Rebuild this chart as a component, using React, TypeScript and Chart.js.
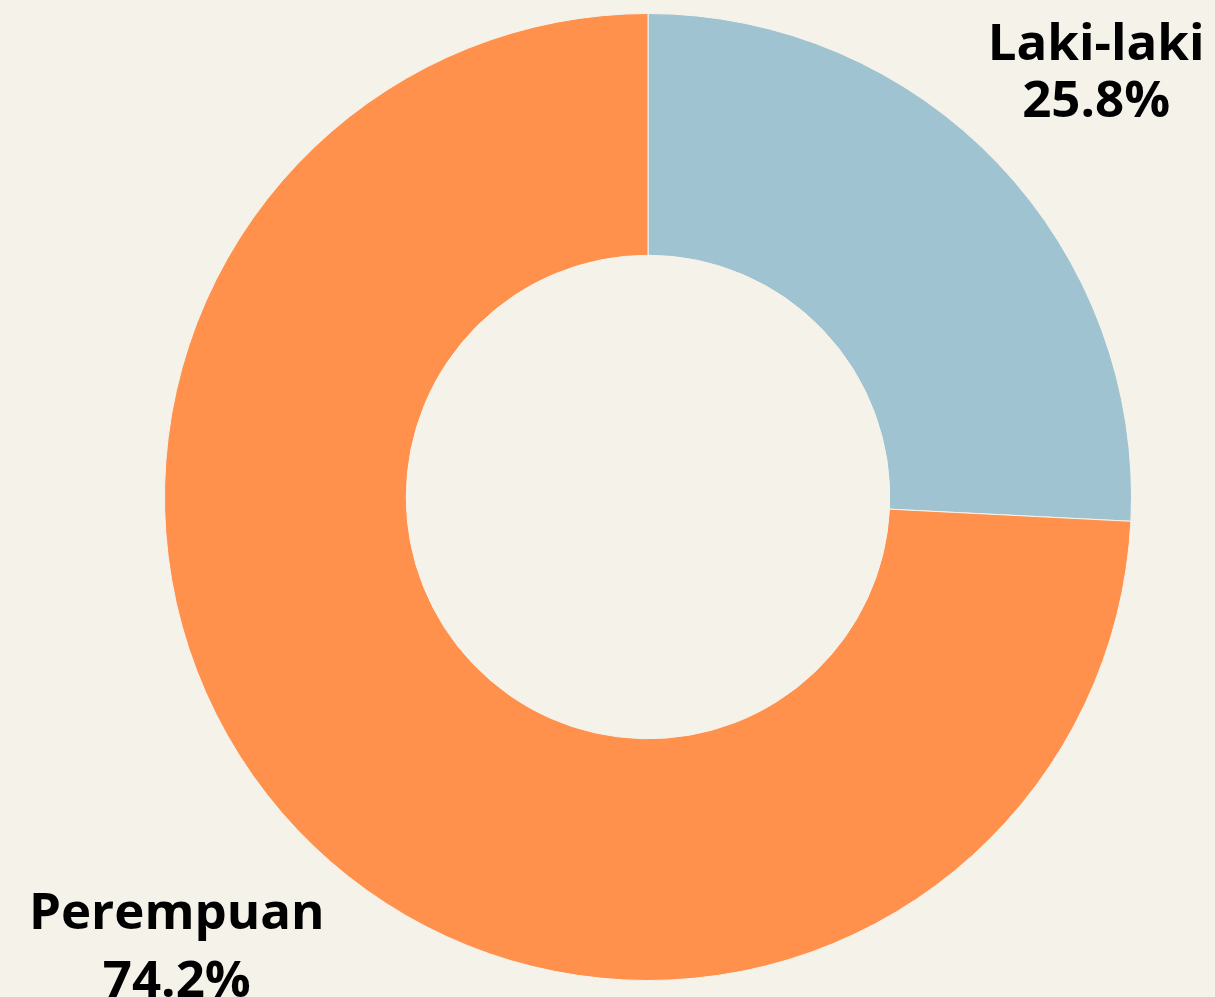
import React, { useEffect, useRef } from "react";
import { Chart, registerables } from "chart.js";

Chart.register(...registerables);

const categories: string[] = ["Laki-laki", "Perempuan"];
const shares: number[] = [25.8, 74.2];
const percentLabels: string[] = ["25.8%", "74.2%"];
const sliceColors: string[] = ["#A0C3D1", "#FF914D"];

const BG = "#F5F2EA";

const outsideLabels = {
  id: "outsideLabels",
  afterDatasetsDraw(chart: any, _args: any, opts: any) {
    const ctx = chart.ctx;
    const meta = chart.getDatasetMeta(0);
    ctx.save();
    ctx.fillStyle = opts.color;
    ctx.font = opts.font;
    ctx.textAlign = "center";
    ctx.textBaseline = "alphabetic";
    meta.data.forEach((arc: any, i: number) => {
      const p = arc.getProps(["x", "y", "startAngle", "endAngle", "outerRadius"], true);
      const mid = (p.startAngle + p.endAngle) / 2;
      const r = p.outerRadius * opts.distance[i];
      const ax = p.x + Math.cos(mid) * r;
      const ay = p.y + Math.sin(mid) * r;
      const gap = opts.lineGap[i];
      const h = gap + opts.capHeight;
      const y2 = ay + h / 2;
      const y1 = y2 - gap;
      ctx.fillText(categories[i], ax, y1);
      ctx.fillText(percentLabels[i], ax, y2);
    });
    ctx.restore();
  },
};

export default function App() {
  const ref = useRef<HTMLCanvasElement | null>(null);
  useEffect(() => {
    if (!ref.current) return;
    const chart = new Chart(ref.current, {
      type: "doughnut",
      data: {
        labels: categories,
        datasets: [
          {
            data: shares,
            backgroundColor: sliceColors,
            borderColor: BG,
            borderWidth: 1,
            hoverOffset: 0,
            offset: 0,
          },
        ],
      },
      options: {
        animation: false,
        responsive: false,
        maintainAspectRatio: false,
        cutout: "50%",
        layout: { padding: { top: 13, bottom: 16, left: 164, right: 83 } },
        plugins: {
          legend: { display: false },
          tooltip: { enabled: false },
          outsideLabels: {
            color: "#000000",
            font: "bold 51px 'Open Sans'",
            distance: [1.279, 1.345],
            lineGap: [57, 68],
            capHeight: 36,
          },
        } as any,
      },
      plugins: [outsideLabels],
    });
    return () => chart.destroy();
  }, []);
  return (
    <div
      style={{
        position: "fixed",
        left: 0,
        top: 0,
        width: 1215,
        height: 997,
        background: BG,
        overflow: "hidden",
      }}
    >
      <canvas ref={ref} width={1215} height={997} style={{ display: "block" }} />
    </div>
  );
}
